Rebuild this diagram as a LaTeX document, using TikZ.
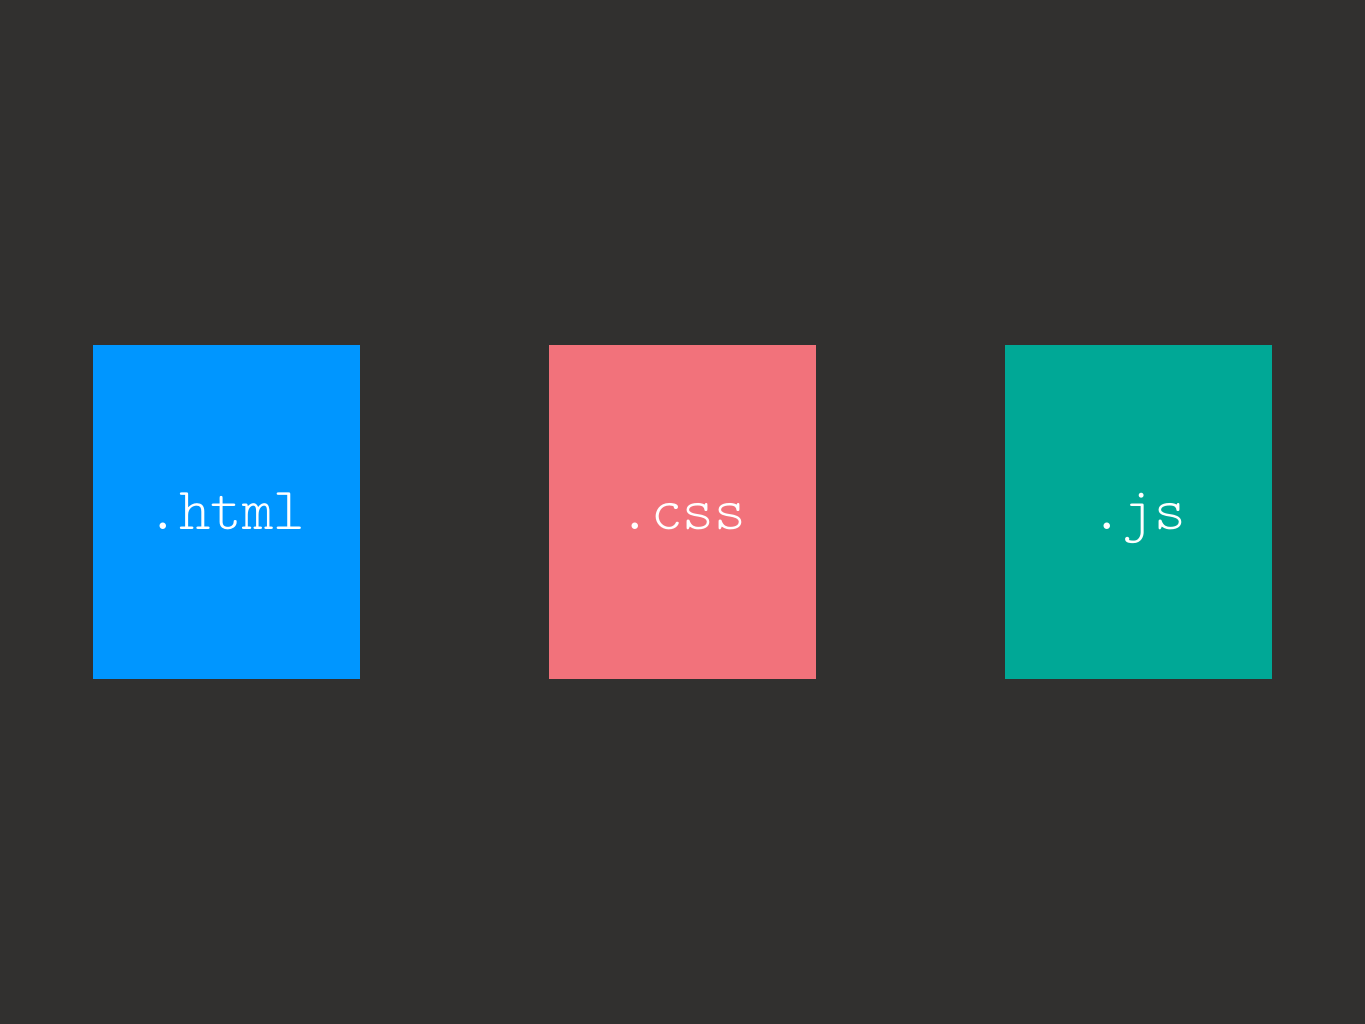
\documentclass[tikz,border=0pt]{standalone}
\usepackage{fontspec}
\setmonofont{Latin Modern Mono Light}
\definecolor{bg}{HTML}{31302F}
\definecolor{htmlblue}{HTML}{0096FF}
\definecolor{csspink}{HTML}{F2727B}
\definecolor{jsteal}{HTML}{00A896}
\tikzset{
  filebox/.style={minimum width=267pt, minimum height=334pt, inner sep=0pt, anchor=north west, text=white, text height=45pt, text depth=11pt, font=\ttfamily\fontsize{60}{60}\selectfont},
}
\begin{document}
\begin{tikzpicture}[x=1pt,y=-1pt]
\fill[bg] (0,0) rectangle (1365,1024);
\useasboundingbox (0,0) rectangle (1365,1024);
\node[filebox, fill=htmlblue] (html) at (93,345) {.html};
\node[filebox, fill=csspink] (css) at (549,345) {.css};
\node[filebox, fill=jsteal] (js) at (1005,345) {.js};
\end{tikzpicture}
\end{document}
